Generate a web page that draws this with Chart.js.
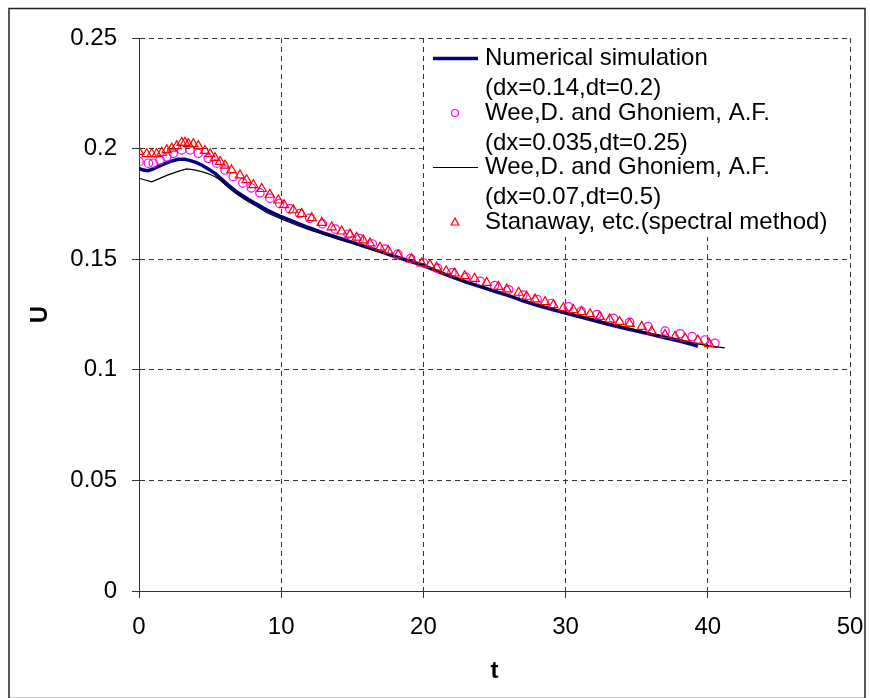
<!DOCTYPE html>
<html>
  <head>
    <title>U vs t</title>
    <script src="https://cdn.jsdelivr.net/npm/chart.js@4.4.1/dist/chart.umd.min.js"></script>
    <style>
      body {
        margin: 0;
        background: #fff;
      }
      #chart {
        display: block;
      }
    </style>
  </head>
  <body>
    <canvas id="chart" width="870" height="698"></canvas>

    <script>
      // Numerical simulation (dx=0.14, dt=0.2)
      const numT = [0, 0.3, 0.65, 1.0, 1.6, 2.2, 2.76, 3.2, 3.5, 4.0, 4.4, 4.9, 5.35, 5.8, 6.28, 6.75, 7.2, 7.7, 8.2, 9.0,
        10, 11, 12, 13, 14, 15, 16, 17, 18, 19, 20, 21, 22, 23, 24, 25, 26, 27, 28, 29, 30, 31, 32, 33, 34, 35, 36, 37, 38, 39, 39.3];
      const numU = [0.1910, 0.1903, 0.1900, 0.1908, 0.1926, 0.1942, 0.1952, 0.1952, 0.1948, 0.1938, 0.1926, 0.1907, 0.1888, 0.1862, 0.1835, 0.1810, 0.1790, 0.1770, 0.1752, 0.1722,
        0.1692, 0.1666, 0.1641, 0.1618, 0.1597, 0.1576, 0.1555, 0.1534, 0.1512, 0.1492, 0.1472, 0.1445, 0.1420, 0.1397, 0.1376, 0.1355, 0.1335, 0.1312, 0.1292, 0.1274,
        0.1257, 0.1240, 0.1223, 0.1206, 0.1190, 0.1175, 0.1160, 0.1145, 0.1130, 0.1113, 0.1106];

      // Wee & Ghoniem (dx=0.035, dt=0.25) - circles
      const weeFineT = [0, 0.66, 1.0, 1.48, 1.95, 2.41, 3.0, 3.59, 4.17, 4.87, 5.46, 6.05, 6.63, 7.3, 7.9, 8.5, 9.2, 9.9, 10.6, 11.3,
        12.0, 12.9, 13.8, 14.7, 15.5, 16.4, 17.3, 18.2, 19.1, 20.0, 21, 22, 23, 24, 25, 26, 27, 28, 29, 30.2,
        31.1, 32.2, 33.36, 34.5, 35.8, 37.0, 38.05, 38.9, 39.8, 40.5];
      const weeFineU = [0.1941, 0.1934, 0.1934, 0.1948, 0.1963, 0.1979, 0.1994, 0.1994, 0.1979, 0.1956, 0.1934, 0.1903, 0.1873, 0.1845, 0.1822, 0.1800, 0.1776, 0.1752, 0.1728, 0.1706,
        0.1685, 0.1660, 0.1636, 0.1613, 0.1593, 0.1569, 0.1546, 0.1523, 0.1503, 0.1483, 0.1459, 0.1438, 0.1418, 0.1400, 0.1381, 0.1362, 0.1338, 0.1318, 0.1300, 0.1285,
        0.1265, 0.1250, 0.1233, 0.1215, 0.1195, 0.1175, 0.1163, 0.1150, 0.1135, 0.1120];

      // Wee & Ghoniem (dx=0.07, dt=0.5) - thin line
      const weeCoarseT = [0, 0.9, 2.0, 2.8, 3.35, 3.9, 4.4, 4.9, 5.35, 5.7, 6.05, 6.4, 6.75, 7.2, 7.7, 8.2, 9, 10, 11, 12,
        13, 14, 15, 16, 17, 18, 19, 20, 22, 24, 26, 28, 30, 32, 34, 36, 38, 39.3, 40.2, 41.2];
      const weeCoarseU = [0.1866, 0.1850, 0.1880, 0.1898, 0.1908, 0.1904, 0.1896, 0.1886, 0.1873, 0.1858, 0.1838, 0.1818, 0.1800, 0.1780, 0.1760, 0.1742, 0.1710, 0.1682, 0.1656, 0.1632,
        0.1612, 0.1591, 0.1572, 0.1552, 0.1532, 0.1512, 0.1492, 0.1472, 0.1420, 0.1378, 0.1337, 0.1295, 0.1260, 0.1228, 0.1195, 0.1165, 0.1138, 0.1117, 0.1107, 0.1099];

      // Stanaway et al. (spectral method) - triangles
      const spectralT = [0, 0.54, 0.89, 1.24, 1.6, 1.95, 2.3, 2.65, 3.0, 3.23, 3.47, 3.82, 4.17, 4.64, 5.0, 5.34, 5.7, 6.05, 6.5, 7.1,
        7.57, 8.04, 8.63, 9.2, 9.8, 10.2, 10.85, 11.44, 12.15, 12.85, 13.55, 14.25, 14.84, 15.31, 15.77, 16.24, 16.95, 17.53, 18.23, 19.17,
        19.88, 20.46, 20.93, 21.6, 22.2, 22.9, 23.6, 24.45, 25.27, 25.86, 26.7, 27.26, 27.85, 28.55, 29.14, 29.84, 30.54, 31.13, 31.72, 32.4,
        33.1, 33.8, 34.5, 35.35, 36.05, 36.99, 37.7, 38.4, 39.3, 40.1];
      const spectralU = [0.1986, 0.1976, 0.1976, 0.1976, 0.1982, 0.1994, 0.2001, 0.2012, 0.2027, 0.2027, 0.2021, 0.2021, 0.2012, 0.1990, 0.1976, 0.1958, 0.1941, 0.1924, 0.1903, 0.1880,
        0.1858, 0.1836, 0.1818, 0.1792, 0.1766, 0.1745, 0.1722, 0.1705, 0.1686, 0.1665, 0.1645, 0.1626, 0.1612, 0.1598, 0.1586, 0.1572, 0.1553, 0.1538, 0.1519, 0.1500,
        0.1482, 0.1474, 0.1463, 0.1446, 0.1436, 0.1424, 0.1412, 0.1394, 0.1376, 0.1364, 0.1349, 0.1331, 0.1319, 0.1307, 0.1293, 0.1279, 0.1271, 0.1262, 0.1252, 0.1240,
        0.1228, 0.1217, 0.1208, 0.1195, 0.1174, 0.1158, 0.1150, 0.1142, 0.1133, 0.1117];

      const xTicks = [0, 10, 20, 30, 40, 50];
      const yTicks = [0, 0.05, 0.1, 0.15, 0.2, 0.25];
      const yTickLabels = ["0", "0.05", "0.1", "0.15", "0.2", "0.25"];

      const legendEntries = [
        { lines: ["Numerical simulation", "(dx=0.14,dt=0.2)"], kind: "line", color: "#000080", width: 3.5 },
        { lines: ["Wee,D. and Ghoniem, A.F.", "(dx=0.035,dt=0.25)"], kind: "circle", color: "#ff00ff" },
        { lines: ["Wee,D. and Ghoniem, A.F.", "(dx=0.07,dt=0.5)"], kind: "line", color: "#000000", width: 1.2 },
        { lines: ["Stanaway, etc.(spectral method)"], kind: "triangle", color: "#ff0000" },
      ];

      const FONT = "'Liberation Sans', Arial, sans-serif";

      function toPoints(ts, us) {
        const n = Math.min(ts.length, us.length);
        const pts = [];
        for (let i = 0; i < n; i++) pts.push({ x: ts[i], y: us[i] });
        return pts;
      }

      // white legend box over the grid + frame around the figure
      const figurePlugin = {
        id: "figure",
        beforeDatasetsDraw(chart) {
          const ctx = chart.ctx;
          const xs = chart.scales.x;
          const ys = chart.scales.y;
          const left = xs.getPixelForValue(20);
          const right = xs.getPixelForValue(50);
          const top = ys.getPixelForValue(0.25);
          ctx.save();
          ctx.fillStyle = "#fff";
          ctx.fillRect(left + 1, top + 1, right - left - 2, 236 - top);

          ctx.font = "24px " + FONT;
          ctx.fillStyle = "#000";
          ctx.textBaseline = "middle";
          ctx.textAlign = "left";
          const textX = 485;
          const symX = 455;
          legendEntries.forEach((e, i) => {
            const y = 58.5 + i * 54.5;
            e.lines.forEach((txt, j) => ctx.fillText(txt, textX, y + j * 30));
            ctx.strokeStyle = e.color;
            ctx.lineWidth = e.width || 1.2;
            ctx.beginPath();
            if (e.kind === "line") {
              ctx.moveTo(433, y);
              ctx.lineTo(478, y);
            } else if (e.kind === "circle") {
              ctx.arc(symX, y, 3.5, 0, Math.PI * 2);
            } else {
              ctx.moveTo(symX, y - 4);
              ctx.lineTo(symX + 3.8, y + 3);
              ctx.lineTo(symX - 3.8, y + 3);
              ctx.closePath();
            }
            ctx.stroke();
          });

          ctx.strokeStyle = "#222";
          ctx.lineWidth = 1.5;
          ctx.strokeRect(9, 8.5, 856, 690);
          ctx.restore();
        },
      };

      new Chart("chart", {
        type: "scatter",
        data: {
          datasets: [
            {
              label: "Stanaway, etc.(spectral method)",
              data: toPoints(spectralT, spectralU),
              showLine: false,
              pointStyle: "triangle",
              pointRadius: 5.3,
              pointBorderWidth: 1.2,
              borderColor: "#ff0000",
              backgroundColor: "rgba(0,0,0,0)",
              order: 0,
            },
            {
              label: "Wee (dx=0.07,dt=0.5)",
              data: toPoints(weeCoarseT, weeCoarseU),
              showLine: true,
              pointRadius: 0,
              borderWidth: 1.2,
              borderColor: "#000000",
              order: 1,
            },
            {
              label: "Wee (dx=0.035,dt=0.25)",
              data: toPoints(weeFineT, weeFineU),
              showLine: false,
              pointStyle: "circle",
              pointRadius: 4.2,
              pointBorderWidth: 1.2,
              borderColor: "#ff00ff",
              backgroundColor: "rgba(0,0,0,0)",
              order: 2,
            },
            {
              label: "Numerical simulation",
              data: toPoints(numT, numU),
              showLine: true,
              pointRadius: 0,
              borderWidth: 3.5,
              borderColor: "#000080",
              order: 3,
            },
          ],
        },
        options: {
          responsive: false,
          animation: false,
          events: [],
          layout: { padding: { top: 38, right: 20, bottom: 0, left: 0 } },
          plugins: {
            legend: { display: false },
            tooltip: { enabled: false },
          },
          scales: {
            x: {
              type: "linear",
              min: 0,
              max: 50,
              afterBuildTicks: (s) => { s.ticks = xTicks.map((v) => ({ value: v })); },
              afterFit: (s) => {
                s.height = 107;
                s.paddingLeft = 0;
                s.paddingRight = 0;
              },
              grid: { color: "#333", lineWidth: 1, tickLength: 7, tickColor: "#333" },
              border: { display: true, color: "#333", width: 1, dash: [5, 4] },
              ticks: { color: "#000", padding: 15, maxRotation: 0, font: { family: FONT, size: 24 } },
              title: {
                display: true,
                text: "t",
                color: "#000",
                padding: { top: 0, bottom: 12 },
                font: { family: FONT, size: 24, weight: "bold" },
              },
            },
            y: {
              type: "linear",
              min: 0,
              max: 0.25,
              afterBuildTicks: (s) => { s.ticks = yTicks.map((v) => ({ value: v })); },
              afterFit: (s) => {
                s.width = 139;
                s.paddingTop = 0;
                s.paddingBottom = 0;
              },
              grid: { color: "#333", lineWidth: 1, tickLength: 7, tickColor: "#333" },
              border: { display: true, color: "#333", width: 1, dash: [5, 4] },
              ticks: {
                color: "#000",
                padding: 15,
                font: { family: FONT, size: 24 },
                callback: (v, i) => yTickLabels[i],
              },
              title: {
                display: true,
                text: "U",
                color: "#000",
                padding: { top: 26, bottom: 0 },
                font: { family: FONT, size: 24, weight: "bold" },
              },
            },
          },
        },
        plugins: [figurePlugin],
      });
    </script>
  </body>
</html>
